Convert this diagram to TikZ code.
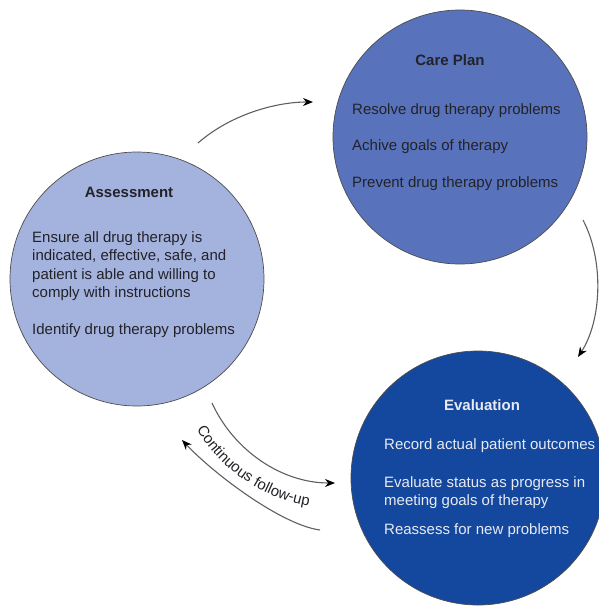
\documentclass[tikz,border=0pt]{standalone}
\usepackage{fontspec}
\setmainfont{Liberation Sans}
\usetikzlibrary{arrows.meta,decorations.text}
\definecolor{assessfill}{RGB}{164,178,222}
\definecolor{planfill}{RGB}{88,115,188}
\definecolor{evalfill}{RGB}{20,72,158}
\definecolor{evaltext}{RGB}{232,234,242}
\definecolor{darktext}{RGB}{34,34,40}
\definecolor{arcgray}{RGB}{95,95,95}

\begin{document}
\begin{tikzpicture}[x=1pt,y=-1pt,
  phase/.style={circle, draw=black!70, line width=0.7pt, minimum size=254pt, inner sep=0pt},
  heading/.style={font=\fontsize{15}{18}\selectfont\bfseries, inner sep=0pt},
  body/.style={font=\fontsize{15}{18}\selectfont, anchor=mid west, inner sep=0pt},
  flow/.style={draw=arcgray, line width=1.1pt, -{Stealth[length=10pt,width=8pt,black]}}
]
\useasboundingbox (0,0) rectangle (599,606);
\clip (0,0) rectangle (599,606);

% the three phases
\node[phase, fill=assessfill] (assess) at (137,279) {};
\node[phase, fill=planfill] (plan) at (460,137) {};
\node[phase, fill=evalfill] (eval) at (478,478) {};

% Assessment
\node[heading, text=darktext] (assessTitle) at (129,192) {Assessment};
\begin{scope}[every node/.style={body, text=darktext}]
  \node (a1) at (32,240) {Ensure all drug therapy is};
  \node (a2) at (32,258.3) {indicated, effective, safe, and};
  \node (a3) at (32,276.7) {patient is able and willing to};
  \node (a4) at (32,295) {comply with instructions};
  \node (a5) at (32,331.7) {Identify drug therapy problems};
\end{scope}

% Care Plan
\node[heading, text=darktext] (planTitle) at (450,60) {Care Plan};
\begin{scope}[every node/.style={body, text=darktext}]
  \node (p1) at (352,111.7) {Resolve drug therapy problems};
  \node (p2) at (352,148.3) {Achive goals of therapy};
  \node (p3) at (352,185) {Prevent drug therapy problems};
\end{scope}

% Evaluation
\node[heading, text=evaltext] (evalTitle) at (482,405) {Evaluation};
\begin{scope}[every node/.style={body, text=evaltext}]
  \node (e1) at (384,447) {Record actual patient outcomes};
  \node (e2) at (384,485) {Evaluate status as progress in};
  \node (e3) at (384,503) {meeting goals of therapy};
  \node (e4) at (384,532) {Reassess for new problems};
\end{scope}

% connector end points
\coordinate (ap) at (198,143);
\coordinate (pa) at (313,102);
\coordinate (pe) at (583,220);
\coordinate (ep) at (578,357);
\coordinate (ae) at (212,403);
\coordinate (ea) at (335,483);
\coordinate (eb) at (320,530);
\coordinate (ab) at (182,440);
\coordinate (ls) at (196,428);
\coordinate (le) at (310,506);

% cycle arrows
\draw[flow] (ap) .. controls (230,115) and (275,102) .. (pa);
\draw[flow] (pe) .. controls (604,260) and (602,320) .. (ep);
\draw[flow] (ae) .. controls (234,451) and (282,483) .. (ea);
\draw[flow] (eb) .. controls (282,525) and (215,475) .. (ab);

% curved label between the follow-up arrows
\path[decorate, decoration={text along path, text align=center,
  text={|\fontsize{15}{18}\selectfont\color{darktext}|Continuous follow-up}}]
  (ls) .. controls (220,470) and (262,498) .. (le);
\end{tikzpicture}
\end{document}
